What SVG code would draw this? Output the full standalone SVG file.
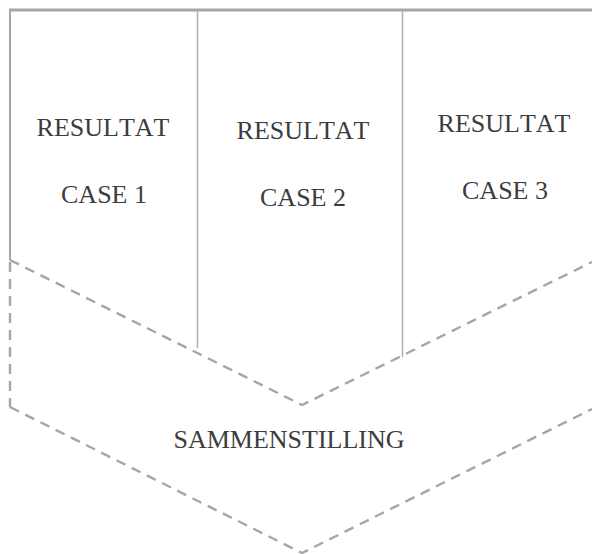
<svg xmlns="http://www.w3.org/2000/svg" width="592" height="554" viewBox="0 0 592 554">
  <style>
    .frame { stroke: #a6a6a6; fill: none; }
    .divider { stroke: #b0b0b0; stroke-width: 1.5; fill: none; }
    .dash { stroke: #a6a6a6; stroke-width: 2.4; fill: none; stroke-dasharray: 10 7; }
    .label { font-family: "Liberation Serif", "Times New Roman", serif; font-size: 26px; fill: #3c3c3c; text-anchor: middle; font-kerning: none; }
  </style>
  <rect width="592" height="554" fill="#ffffff"/>

  <!-- outline and connectors -->
  <g id="connectors">
    <line class="frame" x1="9" y1="10" x2="592" y2="10" stroke-width="3"/>
    <line class="frame" x1="10" y1="10" x2="10" y2="260" stroke-width="2"/>
    <line class="divider" x1="197.5" y1="11" x2="197.5" y2="348"/>
    <line class="divider" x1="402.5" y1="11" x2="402.5" y2="357"/>
    <polyline class="dash" points="10,260 302,405 592,262"/>
    <line class="dash" x1="10" y1="262" x2="10" y2="407"/>
    <polyline class="dash" points="10,407 302,553 592,409"/>
  </g>

  <g id="case1">
    <text class="label" x="103" y="136">RESULTAT</text>
    <text class="label" x="104" y="203">CASE 1</text>
  </g>
  <g id="case2">
    <text class="label" x="303" y="139">RESULTAT</text>
    <text class="label" x="303" y="206">CASE 2</text>
  </g>
  <g id="case3">
    <text class="label" x="504" y="132">RESULTAT</text>
    <text class="label" x="505" y="199">CASE 3</text>
  </g>
  <g id="sammenstilling">
    <text class="label" x="289" y="448">SAMMENSTILLING</text>
  </g>
</svg>
